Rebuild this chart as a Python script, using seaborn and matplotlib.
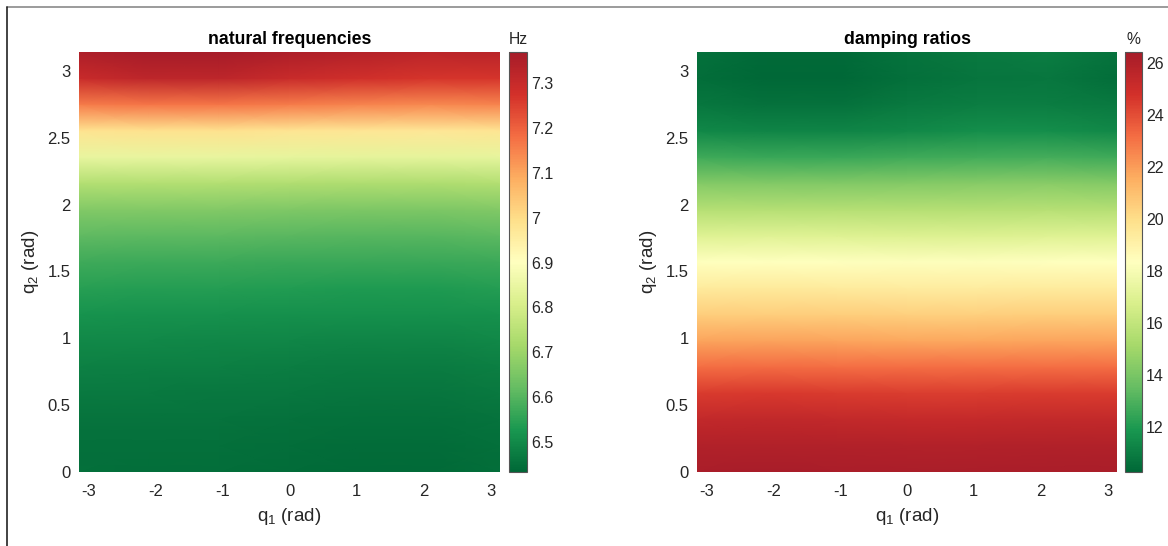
import numpy as np
import matplotlib
matplotlib.use("Agg")
import matplotlib.pyplot as plt
from matplotlib.lines import Line2D
from matplotlib.ticker import FuncFormatter
from matplotlib.colors import LinearSegmentedColormap
import seaborn as sns

# ---------------- data ----------------
q1_nodes = [-3.1416, -2.0944, -1.0472, 0.0, 1.0472, 2.0944, 3.1416]
q2_nodes = [0.000, 0.196, 0.393, 0.589, 0.785, 0.982, 1.178, 1.374, 1.571,
            1.767, 1.963, 2.160, 2.356, 2.553, 2.749, 2.945, 3.1416]

freq_hz = [
    [6.448, 6.446, 6.445, 6.443, 6.440, 6.440, 6.446],
    [6.451, 6.449, 6.448, 6.446, 6.443, 6.443, 6.449],
    [6.458, 6.456, 6.455, 6.453, 6.450, 6.450, 6.456],
    [6.468, 6.466, 6.465, 6.463, 6.460, 6.460, 6.466],
    [6.481, 6.479, 6.478, 6.476, 6.473, 6.473, 6.479],
    [6.498, 6.496, 6.495, 6.493, 6.490, 6.490, 6.496],
    [6.518, 6.516, 6.515, 6.513, 6.510, 6.510, 6.516],
    [6.543, 6.541, 6.540, 6.538, 6.535, 6.535, 6.541],
    [6.573, 6.571, 6.570, 6.568, 6.565, 6.565, 6.571],
    [6.613, 6.611, 6.610, 6.608, 6.605, 6.605, 6.611],
    [6.663, 6.662, 6.660, 6.658, 6.656, 6.656, 6.662],
    [6.740, 6.739, 6.737, 6.735, 6.732, 6.732, 6.738],
    [6.845, 6.845, 6.843, 6.840, 6.836, 6.836, 6.842],
    [6.985, 6.988, 6.986, 6.982, 6.976, 6.974, 6.980],
    [7.160, 7.170, 7.170, 7.160, 7.150, 7.140, 7.150],
    [7.300, 7.320, 7.320, 7.300, 7.280, 7.270, 7.270],
    [7.355, 7.370, 7.370, 7.355, 7.340, 7.325, 7.330],
]

damping_pct = [
    [26.30, 26.35, 26.30, 26.25, 26.25, 26.30, 26.30],
    [26.00, 26.05, 26.00, 25.95, 25.95, 26.00, 26.00],
    [25.40, 25.45, 25.40, 25.35, 25.35, 25.40, 25.40],
    [24.50, 24.55, 24.50, 24.45, 24.45, 24.50, 24.50],
    [23.20, 23.25, 23.20, 23.15, 23.15, 23.20, 23.20],
    [21.80, 21.85, 21.80, 21.75, 21.75, 21.80, 21.80],
    [20.50, 20.55, 20.50, 20.45, 20.45, 20.50, 20.50],
    [19.40, 19.45, 19.40, 19.35, 19.35, 19.40, 19.40],
    [18.30, 18.35, 18.30, 18.25, 18.25, 18.30, 18.30],
    [17.00, 17.05, 17.00, 16.95, 16.95, 17.00, 17.00],
    [15.60, 15.60, 15.60, 15.60, 15.60, 15.65, 15.60],
    [14.30, 14.25, 14.25, 14.30, 14.35, 14.40, 14.30],
    [12.70, 12.60, 12.60, 12.70, 12.80, 12.85, 12.70],
    [11.40, 11.25, 11.25, 11.40, 11.55, 11.60, 11.40],
    [10.80, 10.65, 10.65, 10.85, 11.00, 11.00, 10.85],
    [10.50, 10.30, 10.30, 10.55, 10.75, 10.80, 10.50],
    [10.60, 10.40, 10.40, 10.70, 10.90, 11.00, 10.70],
]

freq_range = [6.433, 7.37]
damp_range = [10.28, 26.43]
x_ticks = [-3, -2, -1, 0, 1, 2, 3]
y_ticks = [0, 0.5, 1, 1.5, 2, 2.5, 3]
freq_cbar_ticks = [6.5, 6.6, 6.7, 6.8, 6.9, 7.0, 7.1, 7.2, 7.3]
damp_cbar_ticks = [12, 14, 16, 18, 20, 22, 24, 26]
titles = ["natural frequencies", "damping ratios"]
units = ["Hz", "%"]

# ---------------- style ----------------
sns.set_theme(style="white")
plt.rcParams["font.family"] = ["Liberation Sans", "DejaVu Sans"]
cmap_colors = ["#006837", "#1a9850", "#66bd63", "#a6d96a", "#d9ef8b", "#ffffbf",
               "#fee08b", "#fdae61", "#f46d43", "#d3302a", "#a61c29"]
cmap = LinearSegmentedColormap.from_list("rdylgn_mod", cmap_colors)
text_col = "#262626"

fig = plt.figure(figsize=(11.68, 5.46), dpi=100)
W, H = 1168, 546

def fx(px):
    return px / W

def fy(py):
    return 1 - py / H

layout = [
    dict(ax=(79, 52, 421, 420), cax=(509, 52, 18, 420)),
    dict(ax=(697, 52, 420, 420), cax=(1125, 52, 17, 420)),
]
datasets = [(freq_hz, freq_range, freq_cbar_ticks), (damping_pct, damp_range, damp_cbar_ticks)]

X, Y = np.meshgrid(np.array(q1_nodes), np.array(q2_nodes))
fmt = FuncFormatter(lambda v, p: f"{v:g}")

for i, (lay, (grid, rng, cticks)) in enumerate(zip(layout, datasets)):
    x0, y0, w, h = lay["ax"]
    ax = fig.add_axes([fx(x0), fy(y0 + h), fx(w), h / H])
    mesh = ax.pcolormesh(X, Y, np.array(grid), shading="gouraud", cmap=cmap,
                         vmin=rng[0], vmax=rng[1], rasterized=True)
    ax.set_xlim(q1_nodes[0], q1_nodes[-1])
    ax.set_ylim(q2_nodes[0], q2_nodes[-1])
    ax.set_xticks(x_ticks)
    ax.set_yticks(y_ticks)
    ax.xaxis.set_major_formatter(fmt)
    ax.yaxis.set_major_formatter(fmt)
    ax.tick_params(length=0, labelsize=12, colors=text_col)
    ax.tick_params(axis="x", pad=9)
    ax.tick_params(axis="y", pad=6)
    for s in ax.spines.values():
        s.set_visible(False)
    ax.set_xlabel(r"q$_\mathregular{1}$ (rad)", fontsize=13.5, color=text_col, labelpad=5)
    ax.set_ylabel(r"q$_\mathregular{2}$ (rad)", fontsize=13.5, color=text_col, labelpad=5)
    ax.set_title(titles[i], fontsize=12.7, fontweight="bold", color="black", pad=6)

    cx0, cy0, cw, ch = lay["cax"]
    cax = fig.add_axes([fx(cx0), fy(cy0 + ch), fx(cw), ch / H])
    cb = fig.colorbar(mesh, cax=cax)
    cb.set_ticks(cticks)
    cb.ax.yaxis.set_major_formatter(fmt)
    cb.outline.set_edgecolor("#555555")
    cb.outline.set_linewidth(0.8)
    cax.tick_params(direction="in", length=3, width=0.7, color="#444444",
                    labelsize=11.5, labelcolor=text_col, pad=3, right=True, left=False)
    cax.set_title(units[i], fontsize=11.3, color=text_col, pad=6)

# thin screenshot frame (top and left edges)
fig.add_artist(Line2D([fx(6.5), 1.0], [fy(6.5), fy(6.5)], transform=fig.transFigure,
                      color="#8a8a8a", lw=1.2))
fig.add_artist(Line2D([fx(6.5), fx(6.5)], [fy(6.5), 0.0], transform=fig.transFigure,
                      color="#222222", lw=1.2))

fig.savefig("out.png", dpi=100, facecolor="white")
